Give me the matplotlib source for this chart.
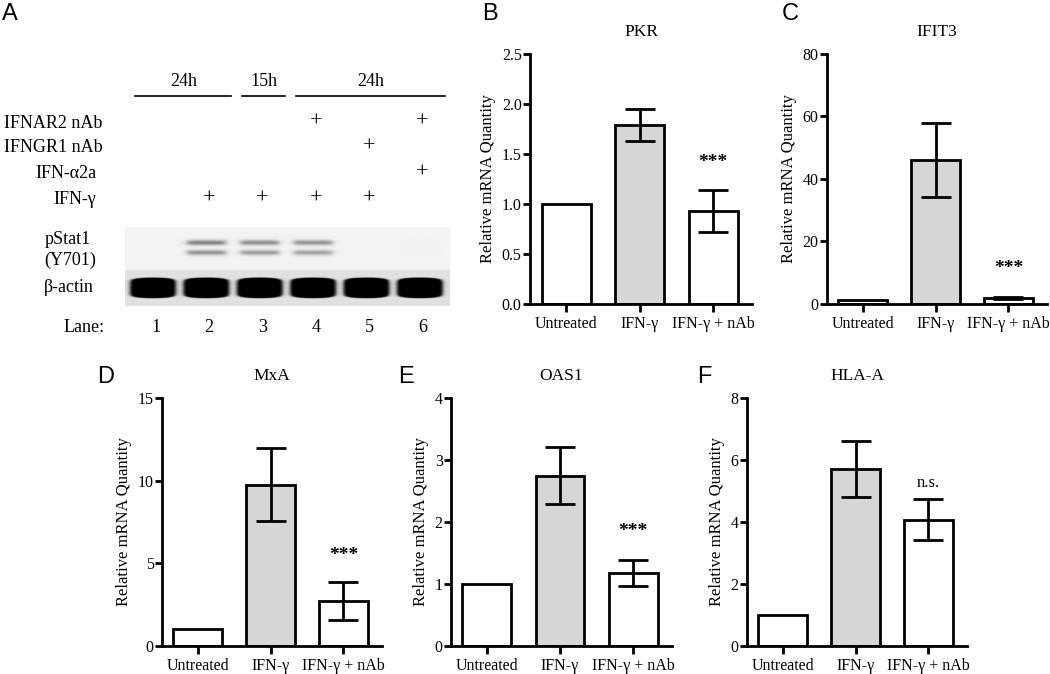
import numpy as np
import matplotlib
matplotlib.use("Agg")
import matplotlib.pyplot as plt

plt.rcParams['font.family'] = ['Liberation Serif', 'DejaVu Serif']

# ---- panel A: western blot layout data ----
lanes = [1, 2, 3, 4, 5, 6]
ifnar2_nab = [0, 0, 0, 1, 0, 1]
ifngr1_nab = [0, 0, 0, 0, 1, 0]
ifn_a2a = [0, 0, 0, 0, 0, 1]
ifn_g = [0, 1, 1, 1, 1, 0]
treat_rows = ["IFNAR2 nAb", "IFNGR1 nAb", "IFN-α2a", "IFN-γ"]
time_labels = ["24h", "15h", "24h"]
time_first = [1, 3, 4]
time_last = [2, 3, 6]
pstat1_signal = [0.0, 1.0, 0.9, 0.85, 0.0, 0.03]
actin_signal = [1.0, 1.0, 1.0, 1.0, 1.0, 1.0]

# ---- panels B-F: qPCR bars ----
groups = ["Untreated", "IFN-γ", "IFN-γ + nAb"]
genes = ["PKR", "IFIT3", "MxA", "OAS1", "HLA-A"]
pkr_mean = [1.0, 1.79, 0.93]
pkr_err = [0.0, 0.16, 0.21]
ifit3_mean = [1.0, 46.0, 1.8]
ifit3_err = [0.0, 11.8, 0.4]
mxa_mean = [1.0, 9.75, 2.72]
mxa_err = [0.0, 2.2, 1.16]
oas1_mean = [1.0, 2.75, 1.18]
oas1_err = [0.0, 0.46, 0.21]
hlaa_mean = [1.0, 5.7, 4.08]
hlaa_err = [0.0, 0.9, 0.67]
signif = ["***", "***", "***", "***", "n.s."]
signif_y = [1.41, 11.2, 5.5, 1.84, 5.26]
ymax = [2.5, 80, 15, 4, 8]
yticks = [[0.0, 0.5, 1.0, 1.5, 2.0, 2.5], [0, 20, 40, 60, 80], [0, 5, 10, 15],
          [0, 1, 2, 3, 4], [0, 2, 4, 6, 8]]
ytick_fmt = ["{:.1f}", "{:d}", "{:d}", "{:d}", "{:d}"]

W, H = 1050, 674
fig = plt.figure(figsize=(10.5, 6.74), dpi=100)

# ---------- Panel A ----------
axA = fig.add_axes([0, 1 - 340 / H, 450 / W, 340 / H])
axA.axis("off")

row_y = [123, 148, 174, 200]
row_x = [0.05, 0.05, -0.06, -0.06]
for r, (name, vals) in enumerate(zip(treat_rows, [ifnar2_nab, ifngr1_nab, ifn_a2a, ifn_g])):
    axA.text(row_x[r], row_y[r], name, ha="right", va="center", fontsize=13)
    for ln, v in zip(lanes, vals):
        if v:
            axA.text(ln + 0.05, row_y[r] - 1, "+", ha="center", va="center", fontsize=16)

for lab, a, b in zip(time_labels, time_first, time_last):
    x0, x1 = a - 0.33, b + 0.47
    axA.plot([x0, x1], [96, 96], color="black", lw=1.2)
    axA.text((x0 + x1) / 2, 82, lab, ha="center", va="center", fontsize=13)

# gel image built from band intensities
gx = np.linspace(0.48, 6.56, 700)
gy = np.linspace(227, 306, 180)
X, Y = np.meshgrid(gx, gy)
dark = np.where(Y < 270, 0.05, 0.12)
def edge(d, hw, s):
    return 1 / (1 + np.exp((np.abs(d) - hw) / s))
for ln, p, a in zip(lanes, pstat1_signal, actin_signal):
    dx = X - ln
    dark = dark + p * 0.45 * edge(dx, 0.36, 0.035) * np.exp(-((Y - 242.5) / 2.6) ** 2)
    dark = dark + p * 0.38 * edge(dx, 0.36, 0.035) * np.exp(-((Y - 252.5) / 2.6) ** 2)
    shape = np.sqrt((dx / 0.45) ** 2 + ((Y - 288) / 10.5) ** 8)
    dark = dark + a * 0.95 * edge(shape, 0.95, 0.05)
dark = np.clip(dark, 0, 1)
axA.imshow(dark, cmap="gray_r", vmin=0, vmax=1, extent=(0.48, 6.56, 306, 227),
           aspect="auto", interpolation="bilinear")
axA.set_xlim(-1.865, 6.562)
axA.set_ylim(340, 0)

axA.text(-0.6, 240, "pStat1", ha="center", va="center", fontsize=13)
axA.text(-0.55, 260, "(Y701)", ha="center", va="center", fontsize=13)
axA.text(-0.58, 287, "β-actin", ha="center", va="center", fontsize=13)
axA.text(-0.29, 328, "Lane:", ha="center", va="center", fontsize=13)
for ln in lanes:
    axA.text(ln + 0.05, 328, str(ln), ha="center", va="center", fontsize=13)

# ---------- Panels B-F ----------
boxes = [(530, 54, 752, 303.5), (827, 54, 1047, 303.5),
         (162, 398, 382, 646), (451, 398, 672, 646), (747, 398, 967, 646)]
means = [pkr_mean, ifit3_mean, mxa_mean, oas1_mean, hlaa_mean]
errs = [pkr_err, ifit3_err, mxa_err, oas1_err, hlaa_err]
bar_colors = ["white", "#d6d6d6", "white"]
xpos = np.arange(len(groups))

for i, (l, t, r, b) in enumerate(boxes):
    ax = fig.add_axes([l / W, 1 - b / H, (r - l) / W, (b - t) / H])
    ax.bar(xpos, means[i], width=0.667, color=bar_colors, edgecolor="black", linewidth=2, zorder=2)
    ax.errorbar(xpos[1:], means[i][1:], yerr=errs[i][1:], fmt="none", ecolor="black",
                elinewidth=2, capsize=10.8, capthick=2, zorder=3)
    star = signif[i] == "***"
    ax.text(2, signif_y[i], signif[i], ha="center", va="center",
            fontsize=14 if star else 12, fontweight="bold" if star else "normal")
    ax.set_xlim(-0.49, 2.53)
    ax.set_ylim(0, ymax[i])
    ax.set_yticks(yticks[i])
    ax.set_yticklabels([ytick_fmt[i].format(v) for v in yticks[i]])
    ax.set_xticks(xpos)
    ax.set_xticklabels(groups)
    for s in ["top", "right"]:
        ax.spines[s].set_visible(False)
    for s in ["left", "bottom"]:
        ax.spines[s].set_linewidth(2)
    ax.tick_params(axis="y", direction="out", length=5, width=2, labelsize=11.5, pad=1)
    ax.tick_params(axis="x", direction="out", length=6, width=2, labelsize=11.5, pad=3)
    ax.set_ylabel("Relative mRNA Quantity", fontsize=12, labelpad=4)
    ax.set_title(genes[i], fontsize=12.5, pad=13)

# panel letters
letters = ["A", "B", "C", "D", "E", "F"]
letter_xy = [(2, 14), (482, 14), (782, 14), (97, 377), (398, 377), (697, 377)]
for lt, (px, py) in zip(letters, letter_xy):
    fig.text(px / W, 1 - py / H, lt, ha="left", va="center", fontsize=17,
             family=["Liberation Sans", "DejaVu Sans"])

fig.savefig("out.png", dpi=100)
